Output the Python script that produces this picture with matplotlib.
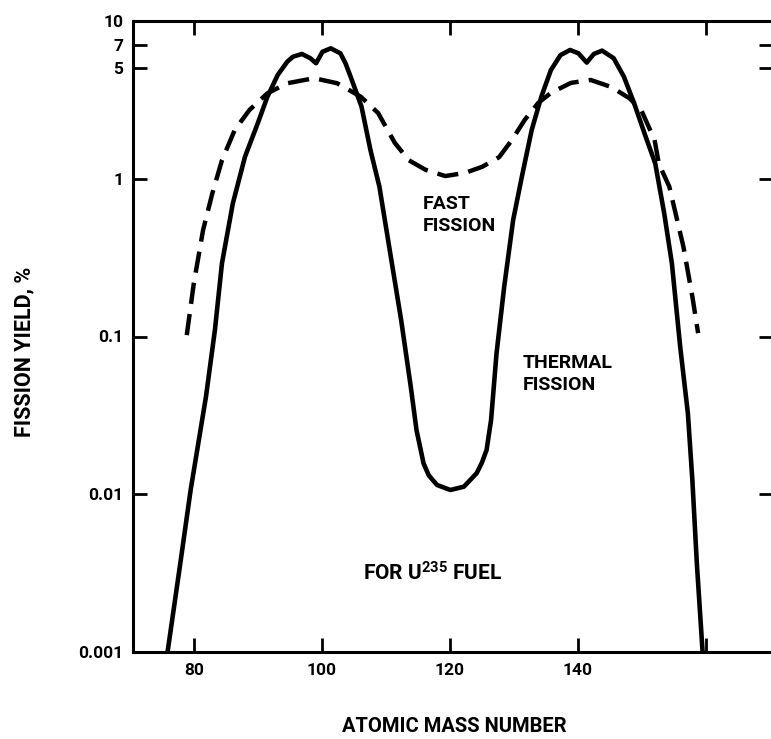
import matplotlib
matplotlib.use("Agg")
import matplotlib.pyplot as plt
from matplotlib.ticker import FixedLocator, NullLocator

plt.rcParams['font.family'] = ['Roboto', 'DejaVu Sans']
plt.rcParams['font.weight'] = 'bold'
plt.rcParams['mathtext.default'] = 'regular'

# Thermal fission yield (solid curve), atomic mass number vs yield %
thermal_mass = [75.9, 77.9, 79.5, 81.9, 83.3, 84.4, 86.1, 88.0, 90.0, 91.5,
                93.1, 94.6, 95.5, 96.9, 98.2, 99.1, 100.1, 101.4, 102.9, 103.7,
                104.5, 106.2, 107.6, 109.0, 110.7, 112.4, 113.9, 114.8, 115.9, 116.7,
                118.0, 120.1, 122.2, 124.2, 125.0, 125.75, 126.45, 127.3, 128.5, 129.9,
                131.3, 132.8, 134.3, 135.8, 137.3, 138.8, 140.1, 141.4, 142.5, 143.8,
                145.6, 147.2, 148.8, 150.6, 152.1, 153.5, 154.7, 156.0, 157.2, 157.9,
                158.6, 159.5]
thermal_yield = [0.001, 0.00367, 0.0106, 0.0415, 0.11, 0.291, 0.698, 1.38, 2.25, 3.31,
                 4.54, 5.52, 5.94, 6.18, 5.81, 5.40, 6.38, 6.71, 6.24, 5.40,
                 4.44, 2.87, 1.52, 0.891, 0.336, 0.127, 0.0481, 0.0255, 0.0157, 0.0132,
                 0.01145, 0.01064, 0.01117, 0.0136, 0.0158, 0.0191, 0.0296, 0.078, 0.207, 0.548,
                 1.05, 2.04, 3.31, 4.89, 6.08, 6.55, 6.24, 5.45, 6.18, 6.49,
                 5.81, 4.44, 3.01, 1.85, 1.25, 0.604, 0.291, 0.086, 0.0326, 0.0123,
                 0.00365, 0.001]

# Fast fission yield (dashed curve)
fast_mass = [78.9, 80.0, 81.45, 82.9, 84.4, 86.4, 88.7, 91.5, 94.6, 98.8,
             102.4, 106.1, 108.8, 111.4, 113.6, 116.2, 119.3, 122.4, 125.05, 127.7,
             129.7, 131.7, 133.8, 135.8, 138.9, 142.0, 145.2, 148.06, 149.9, 152.0,
             152.65, 154.3, 156.5, 157.9, 158.8]
fast_yield = [0.102, 0.217, 0.473, 0.809, 1.31, 2.04, 2.73, 3.48, 4.03, 4.34,
              4.03, 3.31, 2.61, 1.69, 1.31, 1.14, 1.04, 1.09, 1.19, 1.37,
              1.76, 2.36, 3.02, 3.50, 4.05, 4.23, 3.82, 3.24, 2.73, 1.76,
              1.25, 0.89, 0.371, 0.179, 0.105]

x_ticks = [80, 100, 120, 140, 160]
x_tick_labels = ['80', '100', '120', '140', '']
y_ticks = [0.001, 0.01, 0.1, 1, 5, 7, 10]
y_tick_labels = ['0.001', '0.01', '0.1', '1', '5', '7', '10']

W, H = 771, 739
fig = plt.figure(figsize=(W / 100, H / 100), dpi=100)
ax = fig.add_axes([133 / W, 87 / H, 640 / W, 631 / H])

ax.plot(thermal_mass, thermal_yield, color='black', lw=3.3,
        solid_capstyle='round', solid_joinstyle='round')
ax.plot(fast_mass, fast_yield, color='black', lw=3.2, dashes=(4.8, 2.3),
        dash_capstyle='butt')

ax.set_yscale('log')
ax.set_xlim(70.5, 170.5)
ax.set_ylim(0.001, 10)

ax.yaxis.set_major_locator(FixedLocator(y_ticks))
ax.set_yticklabels(y_tick_labels)
ax.yaxis.set_minor_locator(NullLocator())
ax.xaxis.set_major_locator(FixedLocator(x_ticks))
ax.set_xticklabels(x_tick_labels)

for s in ax.spines.values():
    s.set_linewidth(2.2)

ax.tick_params(axis='both', which='major', direction='in', length=10, width=2,
               top=True, right=True, labelsize=12.5)
ax.tick_params(axis='y', pad=7)
ax.tick_params(axis='x', pad=8)

ax.text(115.8, 0.589, 'FAST\nFISSION', ha='left', va='center', fontsize=14,
        linespacing=1.25, fontweight='bold')
ax.text(131.4, 0.0578, 'THERMAL\nFISSION', ha='left', va='center', fontsize=14,
        linespacing=1.25, fontweight='bold')
ax.text(106.4, 0.00286, 'FOR U$^{235}$ FUEL', ha='left', va='baseline',
        fontsize=15, fontweight='bold')

fig.text(454 / W, 1 - 727 / H, 'ATOMIC MASS NUMBER', ha='center', va='center',
         fontsize=14.5, fontweight='bold')
fig.text(24 / W, 1 - 352 / H, 'FISSION YIELD, %', ha='center', va='center',
         rotation=90, fontsize=15.5, fontweight='bold')

fig.savefig('out.png', dpi=100)
